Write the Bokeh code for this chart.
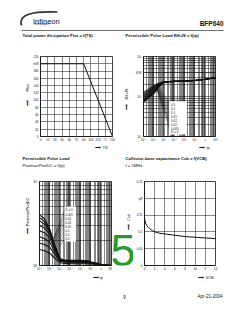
import numpy as np
from bokeh.plotting import figure
from bokeh.layouts import column, row
from bokeh.models import Range1d, FixedTicker, Label, BoxAnnotation
from bokeh.embed import file_html
from bokeh.resources import INLINE

# ---------------- data ----------------
# Chart 1: total power dissipation vs. soldering point temperature
ts_degc = [0, 90, 150]
ptot_mw = [200, 200, 0]
ts_ticks = [0, 15, 30, 45, 60, 75, 90, 105, 120, 135, 150]
ts_tick_labels = ["0", "15", "30", "45", "60", "75", "90", "105", "120", "°C", "150"]
ptot_ticks = [0, 20, 40, 60, 80, 100, 120, 140, 160, 180, 200, 220]
ptot_tick_labels = ["0", "20", "40", "60", "80", "100", "120", "140", "160", "180", "mW", "220"]

# Chart 2: permissible pulse load RthJS = f(tp)
duty_labels_rth = ["0.5", "0.2", "0.1", "0.05", "0.02", "0.01", "0.005", "D = 0"]
tp_rth_s = [1e-7, 3e-7, 1e-6, 3e-6, 1e-5, 1e-4, 1e-3, 1e-2, 1e-1, 1]
rth_d050 = [125, 150, 185, 215, 236, 240, 245, 252, 270, 295]
rth_d020 = [112, 135, 170, 206, 234, 240, 245, 252, 270, 295]
rth_d010 = [102, 125, 158, 198, 233, 240, 245, 252, 270, 295]
rth_d005 = [94, 116, 148, 192, 232, 239, 245, 252, 270, 295]
rth_d002 = [86, 108, 138, 186, 231, 239, 245, 252, 270, 295]
rth_d001 = [80, 101, 130, 181, 230, 239, 245, 252, 270, 295]
rth_d0005 = [76, 96, 124, 177, 229, 238, 245, 252, 270, 295]
rth_d000 = [72, 91, 118, 172, 228, 238, 245, 252, 270, 295]
rth_ticks = [10, 100, 400, 1000]
rth_tick_labels = ["10¹", "10²", "K/W", "10³"]

# Chart 3: permissible pulse load Ptotmax/PtotDC = f(tp)
duty_labels_ratio = ["D = 0", "0.005", "0.01", "0.02", "0.05", "0.1", "0.2", "0.5"]
tp_ratio_s = [1e-7, 3e-7, 1e-6, 3e-6, 1e-5, 3e-5, 1e-4, 1e-3, 5e-3, 1e-2, 3e-2, 1e-1, 1]
ratio_d000 = [4.0, 3.6, 2.7, 1.75, 1.2, 1.15, 1.15, 1.15, 1.14, 1.1, 1.07, 1.02, 1.0]
ratio_d0005 = [3.7, 3.35, 2.6, 1.72, 1.2, 1.15, 1.14, 1.14, 1.13, 1.1, 1.07, 1.02, 1.0]
ratio_d001 = [3.4, 3.1, 2.5, 1.68, 1.19, 1.14, 1.13, 1.13, 1.12, 1.09, 1.06, 1.02, 1.0]
ratio_d002 = [3.0, 2.8, 2.35, 1.62, 1.18, 1.13, 1.12, 1.12, 1.11, 1.09, 1.06, 1.02, 1.0]
ratio_d005 = [2.6, 2.45, 2.15, 1.55, 1.16, 1.12, 1.11, 1.11, 1.1, 1.08, 1.05, 1.02, 1.0]
ratio_d010 = [2.2, 2.1, 1.9, 1.45, 1.14, 1.11, 1.1, 1.1, 1.09, 1.07, 1.05, 1.01, 1.0]
ratio_d020 = [1.85, 1.78, 1.65, 1.35, 1.12, 1.1, 1.08, 1.08, 1.08, 1.06, 1.04, 1.01, 1.0]
ratio_d050 = [1.55, 1.5, 1.4, 1.22, 1.08, 1.06, 1.05, 1.05, 1.05, 1.04, 1.03, 1.01, 1.0]
ratio_ticks = [1, 10]
ratio_tick_labels = ["10⁰", "10¹"]

tp_ticks = [1e-7, 1e-6, 1e-5, 1e-4, 1e-3, 1e-2, 1e-1, 1]
tp_tick_labels = ["10⁻⁷", "10⁻⁶", "10⁻⁵", "10⁻⁴", "10⁻³", "10⁻²", "s", "10⁰"]

# Chart 4: collector-base capacitance vs. VCB
vcb_v = [0, 0.1, 0.25, 0.5, 0.75, 1, 1.5, 2, 3, 4, 6, 8, 10, 12, 14]
ccb_pf = [0.142, 0.133, 0.125, 0.118, 0.114, 0.11, 0.104, 0.1, 0.096, 0.094, 0.09, 0.086, 0.084, 0.082, 0.08]
vcb_ticks = [0, 2, 4, 6, 8, 10, 12, 14]
vcb_tick_labels = ["0", "2", "4", "6", "8", "10", "V", "14"]
ccb_ticks = [0, 0.05, 0.1, 0.15, 0.2, 0.25]
ccb_tick_labels = ["0", "0.05", "0.1", "0.15", "pF", "0.25"]

# ---------------- helpers ----------------
FONT = "Liberation Sans"
INK = "#111111"
GREEN = "#2a982a"
NB = "\u00a0"
ARW = "\u27f6"


def log_map(p0, p1, v0, v1):
    a, b = np.log10(v0), np.log10(v1)
    return lambda px: float(10 ** (a + (px - p0) * (b - a) / (p1 - p0)))


def minor_log(lo_exp, hi_exp):
    return [m * 10.0 ** e for e in range(lo_exp, hi_exp) for m in range(2, 10)]


def lab(p, x, y, text, size="4px", align="left", baseline="middle", bold=False, angle=0.0,
        color=INK, font=FONT):
    p.add_layout(Label(x=x, y=y, text=text, text_font=font, text_font_size=size,
                       text_align=align, text_baseline=baseline,
                       text_font_style="bold" if bold else "normal",
                       angle=angle, text_color=color))


def chart(w, h, bl, br, bt, bb, xr, yr, xt="linear", yt="linear"):
    p = figure(width=w, height=h, x_range=xr, y_range=yr, x_axis_type=xt, y_axis_type=yt,
               output_backend="svg", toolbar_location=None, title=None,
               min_border_left=bl, min_border_right=br, min_border_top=bt, min_border_bottom=bb)
    p.outline_line_color = INK
    p.outline_line_width = 0.8
    p.background_fill_color = "white"
    p.border_fill_color = "white"
    for ax in p.axis:
        ax.axis_line_color = INK
        ax.axis_line_width = 0.8
        ax.major_tick_line_color = None
        ax.minor_tick_line_color = None
        ax.major_tick_out = 0
        ax.major_tick_in = 0
        ax.minor_tick_out = 0
        ax.minor_tick_in = 0
        ax.major_label_text_font = FONT
        ax.major_label_text_font_size = "3px"
        ax.major_label_text_color = INK
        ax.major_label_standoff = 2
        ax.axis_label_text_font = FONT
        ax.axis_label_text_font_size = "4px"
        ax.axis_label_text_font_style = "normal"
        ax.axis_label_text_color = INK
    for g in p.grid:
        g.grid_line_color = INK
        g.grid_line_width = 0.5
    return p


def blank(w, h, x0, y0):
    p = figure(width=w, height=h, x_range=Range1d(x0, x0 + w), y_range=Range1d(y0 + h, y0),
               x_axis_location=None, y_axis_location=None, output_backend="svg",
               toolbar_location=None, title=None, min_border=0)
    p.outline_line_color = None
    p.background_fill_color = "white"
    for g in p.grid:
        g.visible = False
    return p


def interp_loglog(t, ts, vs):
    return float(10 ** np.interp(np.log10(t), np.log10(ts), np.log10(vs)))


# ---------------- header (page y 0-44) ----------------
hdr = blank(240, 44, 0, 0)
hdr.bezier(x0=[21], y0=[25], x1=[57], y1=[11.5], cx0=[17.5], cy0=[14], cx1=[32], cy1=[10.5],
           line_width=1.6, line_color="#333333")
lab(hdr, 32.5, 20.5, "Infineon", size="7.5px", baseline="alphabetic")
lab(hdr, 33.5, 24.2, "technologies", size="2.6px", baseline="alphabetic")
lab(hdr, 223, 22.7, "BFP640", size="6.5px", align="right", bold=True)
hdr.segment(x0=[21], y0=[30], x1=[223], y1=[30], line_color=INK, line_width=0.6)
lab(hdr, 22, 34.5, "Total power dissipation Ptot = f(TS)", size="4.2px", bold=True)
lab(hdr, 125, 34.5, "Permissible Pulse Load RthJS = f(tp)", size="4.2px", bold=True)

# ---------------- y label strip of chart 1 (page x 0-30, y 44-152) ----------------
s1 = blank(30, 108, 0, 44)
lab(s1, 26.5, 96.5, ARW + NB * 8 + "Ptot", size="4px", align="center", angle=np.pi / 2)

# ---------------- chart 1 (page x 30-120, y 44-152) ----------------
f1 = chart(90, 108, 7, 8, 12, 12, Range1d(0, 150), Range1d(0, 220))
f1.xaxis.ticker = FixedTicker(ticks=ts_ticks)
f1.xaxis.major_label_overrides = dict(zip(ts_ticks, ts_tick_labels))
f1.yaxis.ticker = FixedTicker(ticks=ptot_ticks)
f1.yaxis.major_label_overrides = dict(zip(ptot_ticks, ptot_tick_labels))
f1.line(ts_degc, ptot_mw, line_color=INK, line_width=1.0)
f1.xaxis.axis_label = NB * 45 + ARW + NB + "TS"
f1.xaxis.axis_label_standoff = 0

# ---------------- chart 2 (page x 120-240, y 44-152) ----------------
X2 = log_map(142, 215, 1e-7, 1)
Y2 = log_map(140, 56, 10, 1000)
f2 = chart(120, 108, 22, 25, 12, 12, Range1d(1e-7, 1), Range1d(10, 1000), "log", "log")
f2.xaxis.ticker = FixedTicker(ticks=tp_ticks, minor_ticks=minor_log(-7, 0))
f2.xaxis.major_label_overrides = dict(zip(tp_ticks, tp_tick_labels))
f2.yaxis.ticker = FixedTicker(ticks=rth_ticks, minor_ticks=minor_log(1, 3))
f2.yaxis.major_label_overrides = dict(zip(rth_ticks, rth_tick_labels))
for g in f2.grid:
    g.minor_grid_line_color = INK
    g.minor_grid_line_width = 0.5
rth_curves = [rth_d050, rth_d020, rth_d010, rth_d005, rth_d002, rth_d001, rth_d0005, rth_d000]
f2.add_layout(BoxAnnotation(left=X2(168), right=X2(186), top=Y2(103), bottom=Y2(138),
                            fill_color="white", fill_alpha=1.0, line_color=None))
for i, (name, vals) in enumerate(zip(duty_labels_rth, rth_curves)):
    f2.line(tp_rth_s, vals, line_color=INK, line_width=1.1)
    ly = 106.5 + i * 4.1
    tt = 2.0e-6
    f2.segment(x0=[tt], y0=[interp_loglog(tt, tp_rth_s, vals)], x1=[X2(169.5)], y1=[Y2(ly)],
               line_color=INK, line_width=0.4)
    lab(f2, X2(170), Y2(ly), name, size="3px")
f2.yaxis.axis_label = ARW + NB * 4 + "RthJS" + NB * 5
f2.yaxis.axis_label_standoff = 4
f2.xaxis.axis_label = NB * 45 + ARW + NB + "tp"
f2.xaxis.axis_label_standoff = 0

# ---------------- strip with the second-row titles (page y 152-174) ----------------
mid = blank(240, 22, 0, 152)
lab(mid, 22, 158, "Permissible Pulse Load", size="4.2px", bold=True)
lab(mid, 22, 165, "Ptotmax/PtotDC = f(tp)", size="4.2px")
lab(mid, 125, 158, "Collector-base capacitance Ccb = f(VCB)", size="4.2px", bold=True)
lab(mid, 125, 165, "f = 1MHz", size="4.2px")

# ---------------- y label strip of chart 3 (page x 0-30, y 174-285) ----------------
s3 = blank(30, 111, 0, 174)
lab(s3, 26.5, 219.5, ARW + NB * 2 + "Ptotmax/PtotDC", size="4px", align="center", angle=np.pi / 2)

# ---------------- chart 3 (page x 30-112, y 174-285) ----------------
X3 = log_map(36, 111, 1e-7, 1)
Y3 = log_map(265, 181, 1, 10)
f3 = chart(82, 111, 6, 1, 7, 20, Range1d(1e-7, 1), Range1d(1, 10), "log", "log")
f3.xaxis.ticker = FixedTicker(ticks=tp_ticks, minor_ticks=minor_log(-7, 0))
f3.xaxis.major_label_overrides = dict(zip(tp_ticks, tp_tick_labels))
f3.yaxis.ticker = FixedTicker(ticks=ratio_ticks, minor_ticks=minor_log(0, 1))
f3.yaxis.major_label_overrides = dict(zip(ratio_ticks, ratio_tick_labels))
for g in f3.grid:
    g.minor_grid_line_color = INK
    g.minor_grid_line_width = 0.5
ratio_curves = [ratio_d000, ratio_d0005, ratio_d001, ratio_d002, ratio_d005, ratio_d010, ratio_d020, ratio_d050]
f3.add_layout(BoxAnnotation(left=X3(62), right=X3(74), top=Y3(206), bottom=Y3(241),
                            fill_color="white", fill_alpha=1.0, line_color=None))
for i, (name, vals) in enumerate(zip(duty_labels_ratio, ratio_curves)):
    f3.line(tp_ratio_s, vals, line_color=INK, line_width=1.1)
    ly = 209.5 + i * 4.1
    tt = 2.0e-6
    f3.segment(x0=[tt], y0=[interp_loglog(tt, tp_ratio_s, vals)], x1=[X3(62.5)], y1=[Y3(ly)],
               line_color=INK, line_width=0.4)
    lab(f3, X3(63), Y3(ly), name, size="3px")
f3.xaxis.axis_label = NB * 40 + ARW + NB + "tp"
f3.xaxis.axis_label_standoff = 1

# ---------------- gap column with y label of chart 4 and the green mark (page x 112-133) ----
gap = blank(21, 111, 112, 174)
lab(gap, 111, 267, tp_tick_labels[-1], size="3px", align="center", baseline="top")
lab(gap, 128, 227.5, ARW + NB * 3 + "Ccb", size="4px", align="center", angle=np.pi / 2)
lab(gap, 122.6, 265, "5", size="45px", align="center", baseline="middle", color=GREEN)

# ---------------- chart 4 (page x 133-240, y 174-285) ----------------
f4 = chart(107, 111, 8, 25, 7, 20, Range1d(0, 14), Range1d(0, 0.25))
f4.xaxis.ticker = FixedTicker(ticks=vcb_ticks)
f4.xaxis.major_label_overrides = dict(zip(vcb_ticks, vcb_tick_labels))
f4.yaxis.ticker = FixedTicker(ticks=ccb_ticks)
f4.yaxis.major_label_overrides = dict(zip(ccb_ticks, ccb_tick_labels))
f4.line(vcb_v, ccb_pf, line_color=INK, line_width=1.0)
f4.xaxis.axis_label = NB * 47 + ARW + NB + "VCB"
f4.xaxis.axis_label_standoff = 1

# ---------------- footer (page y 285-310) ----------------
ftr = blank(240, 25, 0, 285)
lab(ftr, 124, 296, "9", size="4.5px", align="center")
lab(ftr, 222, 296, "Apr-21-2004", size="4.5px", align="right")

layout = column(hdr, row(s1, f1, f2), mid, row(s3, f3, gap, f4), ftr)
open("out.html", "w").write(file_html(layout, INLINE))
